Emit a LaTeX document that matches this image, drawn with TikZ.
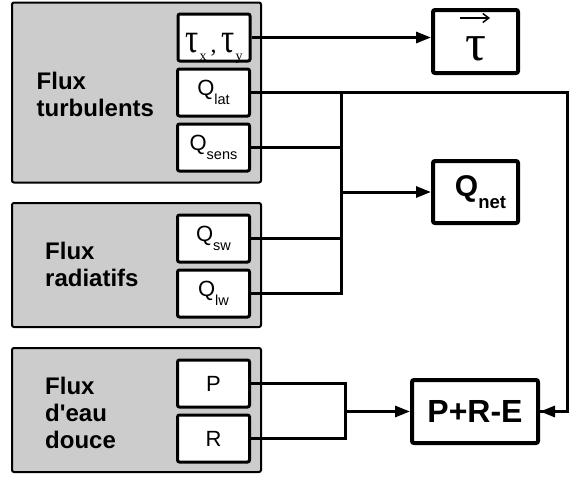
\documentclass[tikz,border=0pt]{standalone}
\usepackage{fontspec}
\usepackage{graphicx}
\setmainfont{Liberation Sans}
\newfontfamily\serifgr{Liberation Serif}
\usetikzlibrary{arrows.meta}
\definecolor{gfill}{RGB}{204,204,204}
\newcommand{\subtxt}[1]{\raisebox{-9pt}{\fontsize{14.5}{14.5}\selectfont #1}}
\newcommand{\subtau}[1]{\raisebox{-8pt}{\fontsize{14}{14}\selectfont #1}}
\newcommand{\smalltau}{\scalebox{0.78}[1]{\fontsize{42}{42}\selectfont τ}}
\begin{document}
\begin{tikzpicture}[x=1pt,y=-1pt,
 group/.style={draw=black,line width=2pt,fill=gfill,rounded corners=2pt,minimum width=249pt,inner sep=0pt},
 inbox/.style={draw=black,line width=3pt,fill=white,rounded corners=2pt,minimum width=72pt,minimum height=47pt,inner sep=0pt,font=\fontsize{22}{22}\selectfont},
 outbox/.style={draw=black,line width=4pt,fill=white,rounded corners=2pt,inner sep=0pt},
 grouplabel/.style={anchor=north west,align=left,inner sep=0pt,font=\bfseries\fontsize{24}{27}\selectfont},
 conn/.style={line width=3pt},
 arr/.style={conn,-{Triangle[length=15pt,width=11pt]}},
 vecarr/.style={line width=1.5pt,-{Straight Barb[length=6pt,width=9pt]}},
]
\useasboundingbox (0,0) rectangle (583,477);

% groups
\node[group,minimum height=180pt] (g1) at (136.5,92.5) {};
\node[group,minimum height=124pt] (g2) at (136.5,265) {};
\node[group,minimum height=124pt] (g3) at (136.5,410) {};

\node[grouplabel] (l1) at (36.5,71.7) {Flux\\turbulents};
\node[grouplabel] (l2) at (45,241.7) {Flux\\radiatifs};
\node[grouplabel] (l3) at (45,376.7) {Flux\\d\textquotesingle eau\\douce};

% inner boxes
\node[inbox] (tau) at (214,37.5) {\serifgr\raisebox{0pt}[29pt][0pt]{\smalltau\hspace{1pt}\subtau{x}\hspace{4pt}{\fontsize{24}{24}\selectfont,}\hspace{5pt}\smalltau\hspace{1pt}\subtau{y}}};
\node[inbox] (qlat) at (213.5,92.5) {Q\subtxt{lat}};
\node[inbox] (qsens) at (213.5,147.5) {Q\subtxt{sens}};
\node[inbox] (qsw) at (213.5,238.5) {Q\subtxt{sw}};
\node[inbox] (qlw) at (213.5,293.5) {Q\subtxt{lw}};
\node[inbox] (p) at (213.5,383.5) {P};
\node[inbox] (r) at (213.5,438.5) {R};

% output boxes
\node[outbox,minimum width=85pt,minimum height=63pt] (tauv) at (475.5,41.5)
  {\serifgr\raisebox{0pt}[37pt][0pt]{\fontsize{52}{52}\selectfont τ}\hspace{14pt}};
\node[outbox,minimum width=85pt,minimum height=62pt,font=\bfseries] (qnet) at (475.5,192)
  {\hspace{10pt}{\fontsize{30}{30}\selectfont Q}\raisebox{-11.7pt}{\fontsize{18.5}{18.5}\selectfont net}};
\node[outbox,minimum width=126pt,minimum height=63pt,font=\bfseries\fontsize{32}{32}\selectfont] (pre) at (475,411.5) {P+R-E};

% vector arrow over tau
\draw[vecarr] ([shift={(-15.5pt,23.5pt)}]tauv.center) -- ([shift={(14.5pt,23.5pt)}]tauv.center);

% connectors
\coordinate (j1) at (341,92.5);
\coordinate (jr) at (567,92.5);
\coordinate (j2) at (345,383.5);

\draw[arr] (tau.east) -- (tau.east -| tauv.west);
\draw[conn] (qlat.east) -- (jr) |- (pre.east);
\draw[arr] (jr |- pre.east) -- (pre.east);
\draw[conn] (j1) |- (qlw.east);
\draw[conn] (qsens.east) -- (j1 |- qsens.east);
\draw[conn] (qsw.east) -- (j1 |- qsw.east);
\draw[arr] (j1 |- qnet.west) -- (qnet.west);
\draw[conn] (p.east) -- (j2) |- (r.east);
\draw[arr] (j2 |- pre.west) -- (pre.west);
\end{tikzpicture}
\end{document}
